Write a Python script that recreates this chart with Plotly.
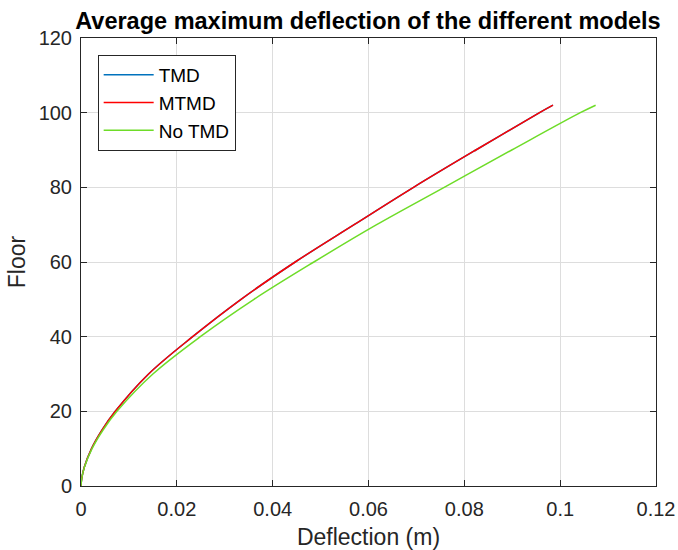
import plotly.graph_objects as go

floors = [0, 2, 5, 10, 15, 20, 30, 40, 50, 60, 70, 80, 90, 100, 102]
tmd = [0, 0.00015, 0.00068, 0.0022, 0.0044, 0.00715, 0.0141, 0.0233, 0.0334, 0.0447, 0.0570, 0.0694, 0.0824, 0.0957, 0.0985]
mtmd = [0, 0.00015, 0.00068, 0.0022, 0.0044, 0.00715, 0.0141, 0.0233, 0.0334, 0.0447, 0.0570, 0.0694, 0.0824, 0.0957, 0.0985]
no_tmd = [0, 0.00015, 0.0007, 0.0023, 0.0046, 0.0075, 0.0150, 0.0249, 0.0361, 0.0486, 0.0617, 0.0758, 0.0899, 0.1042, 0.1074]

x_ticks = [0, 0.02, 0.04, 0.06, 0.08, 0.1, 0.12]
x_tick_text = ["0", "0.02", "0.04", "0.06", "0.08", "0.1", "0.12"]
y_ticks = [0, 20, 40, 60, 80, 100, 120]

font = "Liberation Sans, Arial, sans-serif"

fig = go.Figure()
fig.add_trace(go.Scatter(x=tmd, y=floors, mode="lines", name="TMD",
                         line=dict(color="#0072BD", width=1.5, shape="spline")))
fig.add_trace(go.Scatter(x=mtmd, y=floors, mode="lines", name="MTMD",
                         line=dict(color="#FF0000", width=1.5, shape="spline")))
fig.add_trace(go.Scatter(x=no_tmd, y=floors, mode="lines", name="No TMD",
                         line=dict(color="#6EDC28", width=1.5, shape="spline")))

axis_common = dict(
    showline=True, linecolor="#262626", linewidth=1, mirror="ticks",
    ticks="inside", ticklen=6, tickcolor="#262626",
    showgrid=True, gridcolor="#DDDDDD", gridwidth=1, zeroline=False,
    automargin=False,
    tickfont=dict(family=font, size=20, color="#262626"),
)

fig.update_layout(
    width=678, height=550,
    margin=dict(l=81, r=22, t=38, b=64),
    paper_bgcolor="white", plot_bgcolor="white",
    title=dict(text="<b>Average maximum deflection of the different models</b>",
               x=0.5427, xanchor="center", y=0.963, yanchor="middle",
               font=dict(family=font, size=23.5, color="black")),
    xaxis=dict(range=[0, 0.12], tickvals=x_ticks, ticktext=x_tick_text,
               title=dict(text="Deflection (m)", font=dict(family=font, size=23, color="#262626"), standoff=9),
               ticklabelstandoff=5, **axis_common),
    yaxis=dict(range=[0, 120], tickvals=y_ticks,
               title=dict(text="Floor", font=dict(family=font, size=23, color="#262626"), standoff=6),
               ticklabelstandoff=4, **axis_common),
    legend=dict(x=0.029, y=0.962, xanchor="left", yanchor="top",
                bgcolor="white", bordercolor="#262626", borderwidth=1,
                font=dict(family=font, size=19, color="black"),
                tracegroupgap=0, itemwidth=50),
    showlegend=True,
)

fig.write_html("out.html")
